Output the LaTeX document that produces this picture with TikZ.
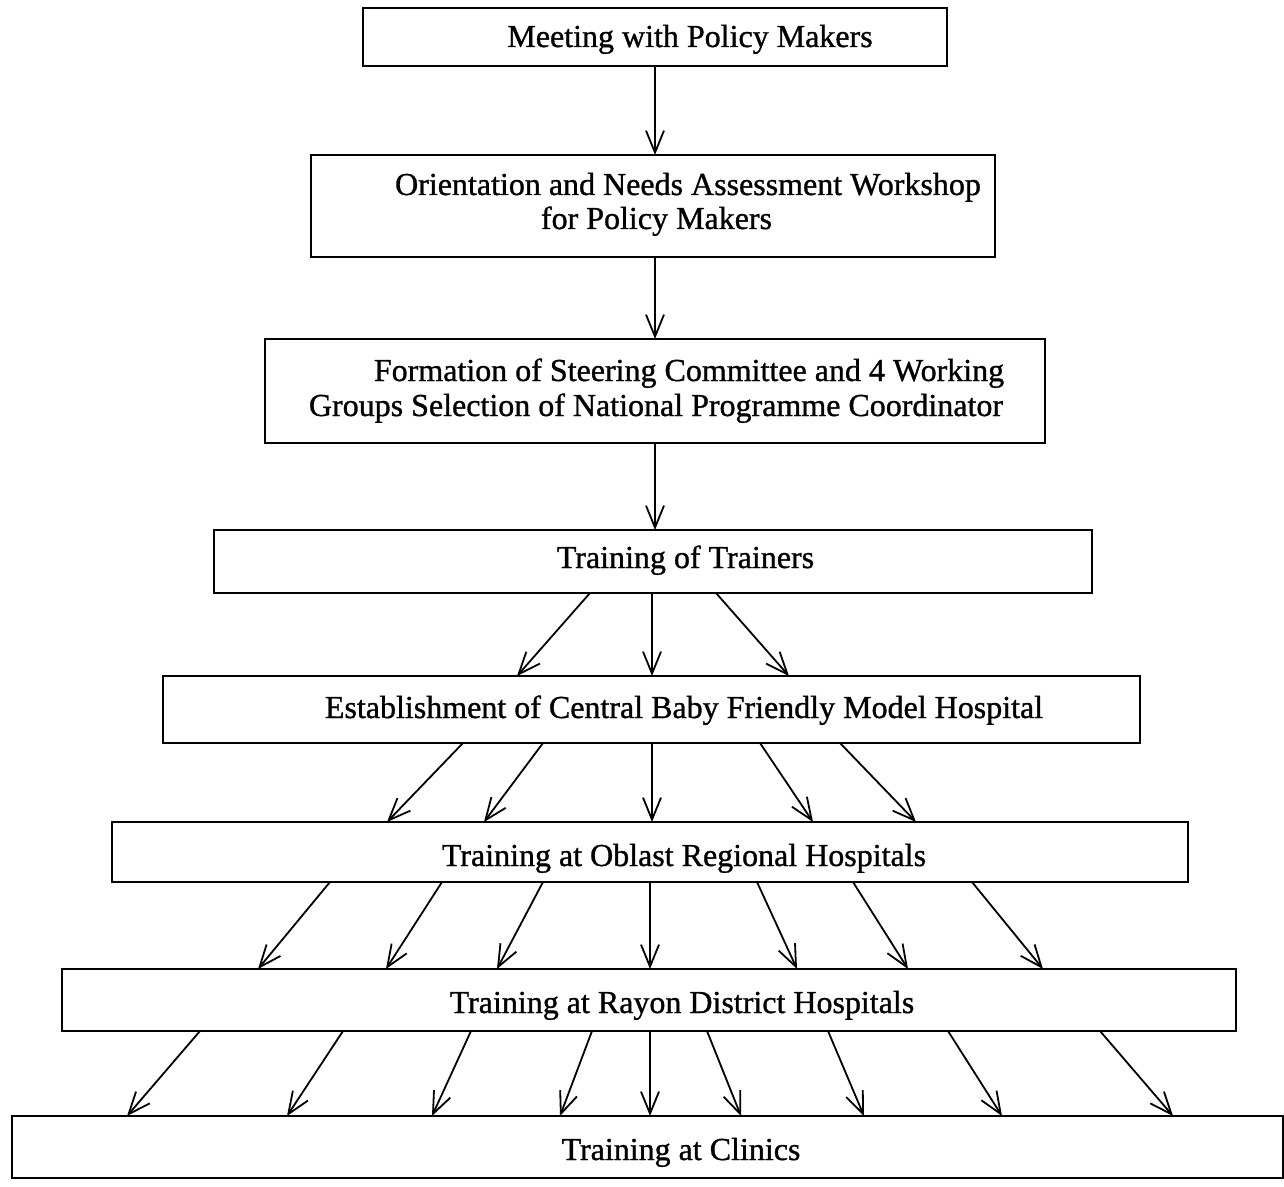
\documentclass[tikz,border=0pt]{standalone}
\usepackage{fontspec}
\setmainfont{Liberation Serif}[FakeBold=1]
\usetikzlibrary{arrows.meta}

\begin{document}
\begin{tikzpicture}[x=0.5pt,y=-0.5pt,
  box/.style={draw, line width=1.3pt, inner sep=0pt, outer sep=0pt},
  txt/.style={anchor=base, inner sep=0pt, font=\fontsize{16}{13}\selectfont},
  arr/.style={line width=0.9pt, -{Straight Barb[length=11pt,width=9pt,line width=0.9pt]}}]
\useasboundingbox (0,0) rectangle (1284,1187);

% stage boxes
\node[box, minimum width=292pt,   minimum height=29pt]   (b1) at (655,37)     {};
\node[box, minimum width=342pt,   minimum height=51pt]   (b2) at (653,206)    {};
\node[box, minimum width=390pt,   minimum height=52pt]   (b3) at (655,391)    {};
\node[box, minimum width=439pt,   minimum height=31.5pt] (b4) at (653,561.5)  {};
\node[box, minimum width=488.5pt, minimum height=33.5pt] (b5) at (651.5,709.5){};
\node[box, minimum width=538pt,   minimum height=30pt]   (b6) at (650,852)    {};
\node[box, minimum width=587pt,   minimum height=31pt]   (b7) at (649,1000)   {};
\node[box, minimum width=635.5pt, minimum height=31pt]   (b8) at (647.5,1147) {};

% stage titles
\node[txt] (t1)  at (690,47)    {Meeting with Policy Makers};
\node[txt] (t2a) at (688,195)   {Orientation and Needs Assessment Workshop};
\node[txt] (t2b) at (656.5,229) {for Policy Makers};
\node[txt] (t3a) at (689,381)   {Formation of Steering Committee and 4 Working};
\node[txt] (t3b) at (656,416)   {Groups Selection of National Programme Coordinator};
\node[txt] (t4)  at (685.5,568) {Training of Trainers};
\node[txt] (t5)  at (684,718)   {Establishment of Central Baby Friendly Model Hospital};
\node[txt] (t6)  at (684,866)   {Training at Oblast Regional Hospitals};
\node[txt] (t7)  at (682,1013)  {Training at Rayon District Hospitals};
\node[txt] (t8)  at (681,1160)  {Training at Clinics};

% single links
\draw[arr] (b1.south -| 655,0) -- (b2.north -| 655,0);
\draw[arr] (b2.south -| 655,0) -- (b3.north -| 655,0);
\draw[arr] (b3.south -| 655,0) -- (b4.north -| 655,0);

% fan-out links
\foreach \a/\b in {590/517, 652/652, 716/789}
  \draw[arr] (b4.south -| \a,0) -- (b5.north -| \b,0);
\foreach \a/\b in {463/387, 543/484, 652/652, 760/813, 840/916}
  \draw[arr] (b5.south -| \a,0) -- (b6.north -| \b,0);
\foreach \a/\b in {330/258, 442/386, 543/497, 650/650, 757/797, 853/908, 972/1043}
  \draw[arr] (b6.south -| \a,0) -- (b7.north -| \b,0);
\foreach \a/\b in {200/127, 343/287, 471/432, 592/560, 650/650, 707/741, 828/864, 948/1002, 1100/1173}
  \draw[arr] (b7.south -| \a,0) -- (b8.north -| \b,0);
\end{tikzpicture}
\end{document}
